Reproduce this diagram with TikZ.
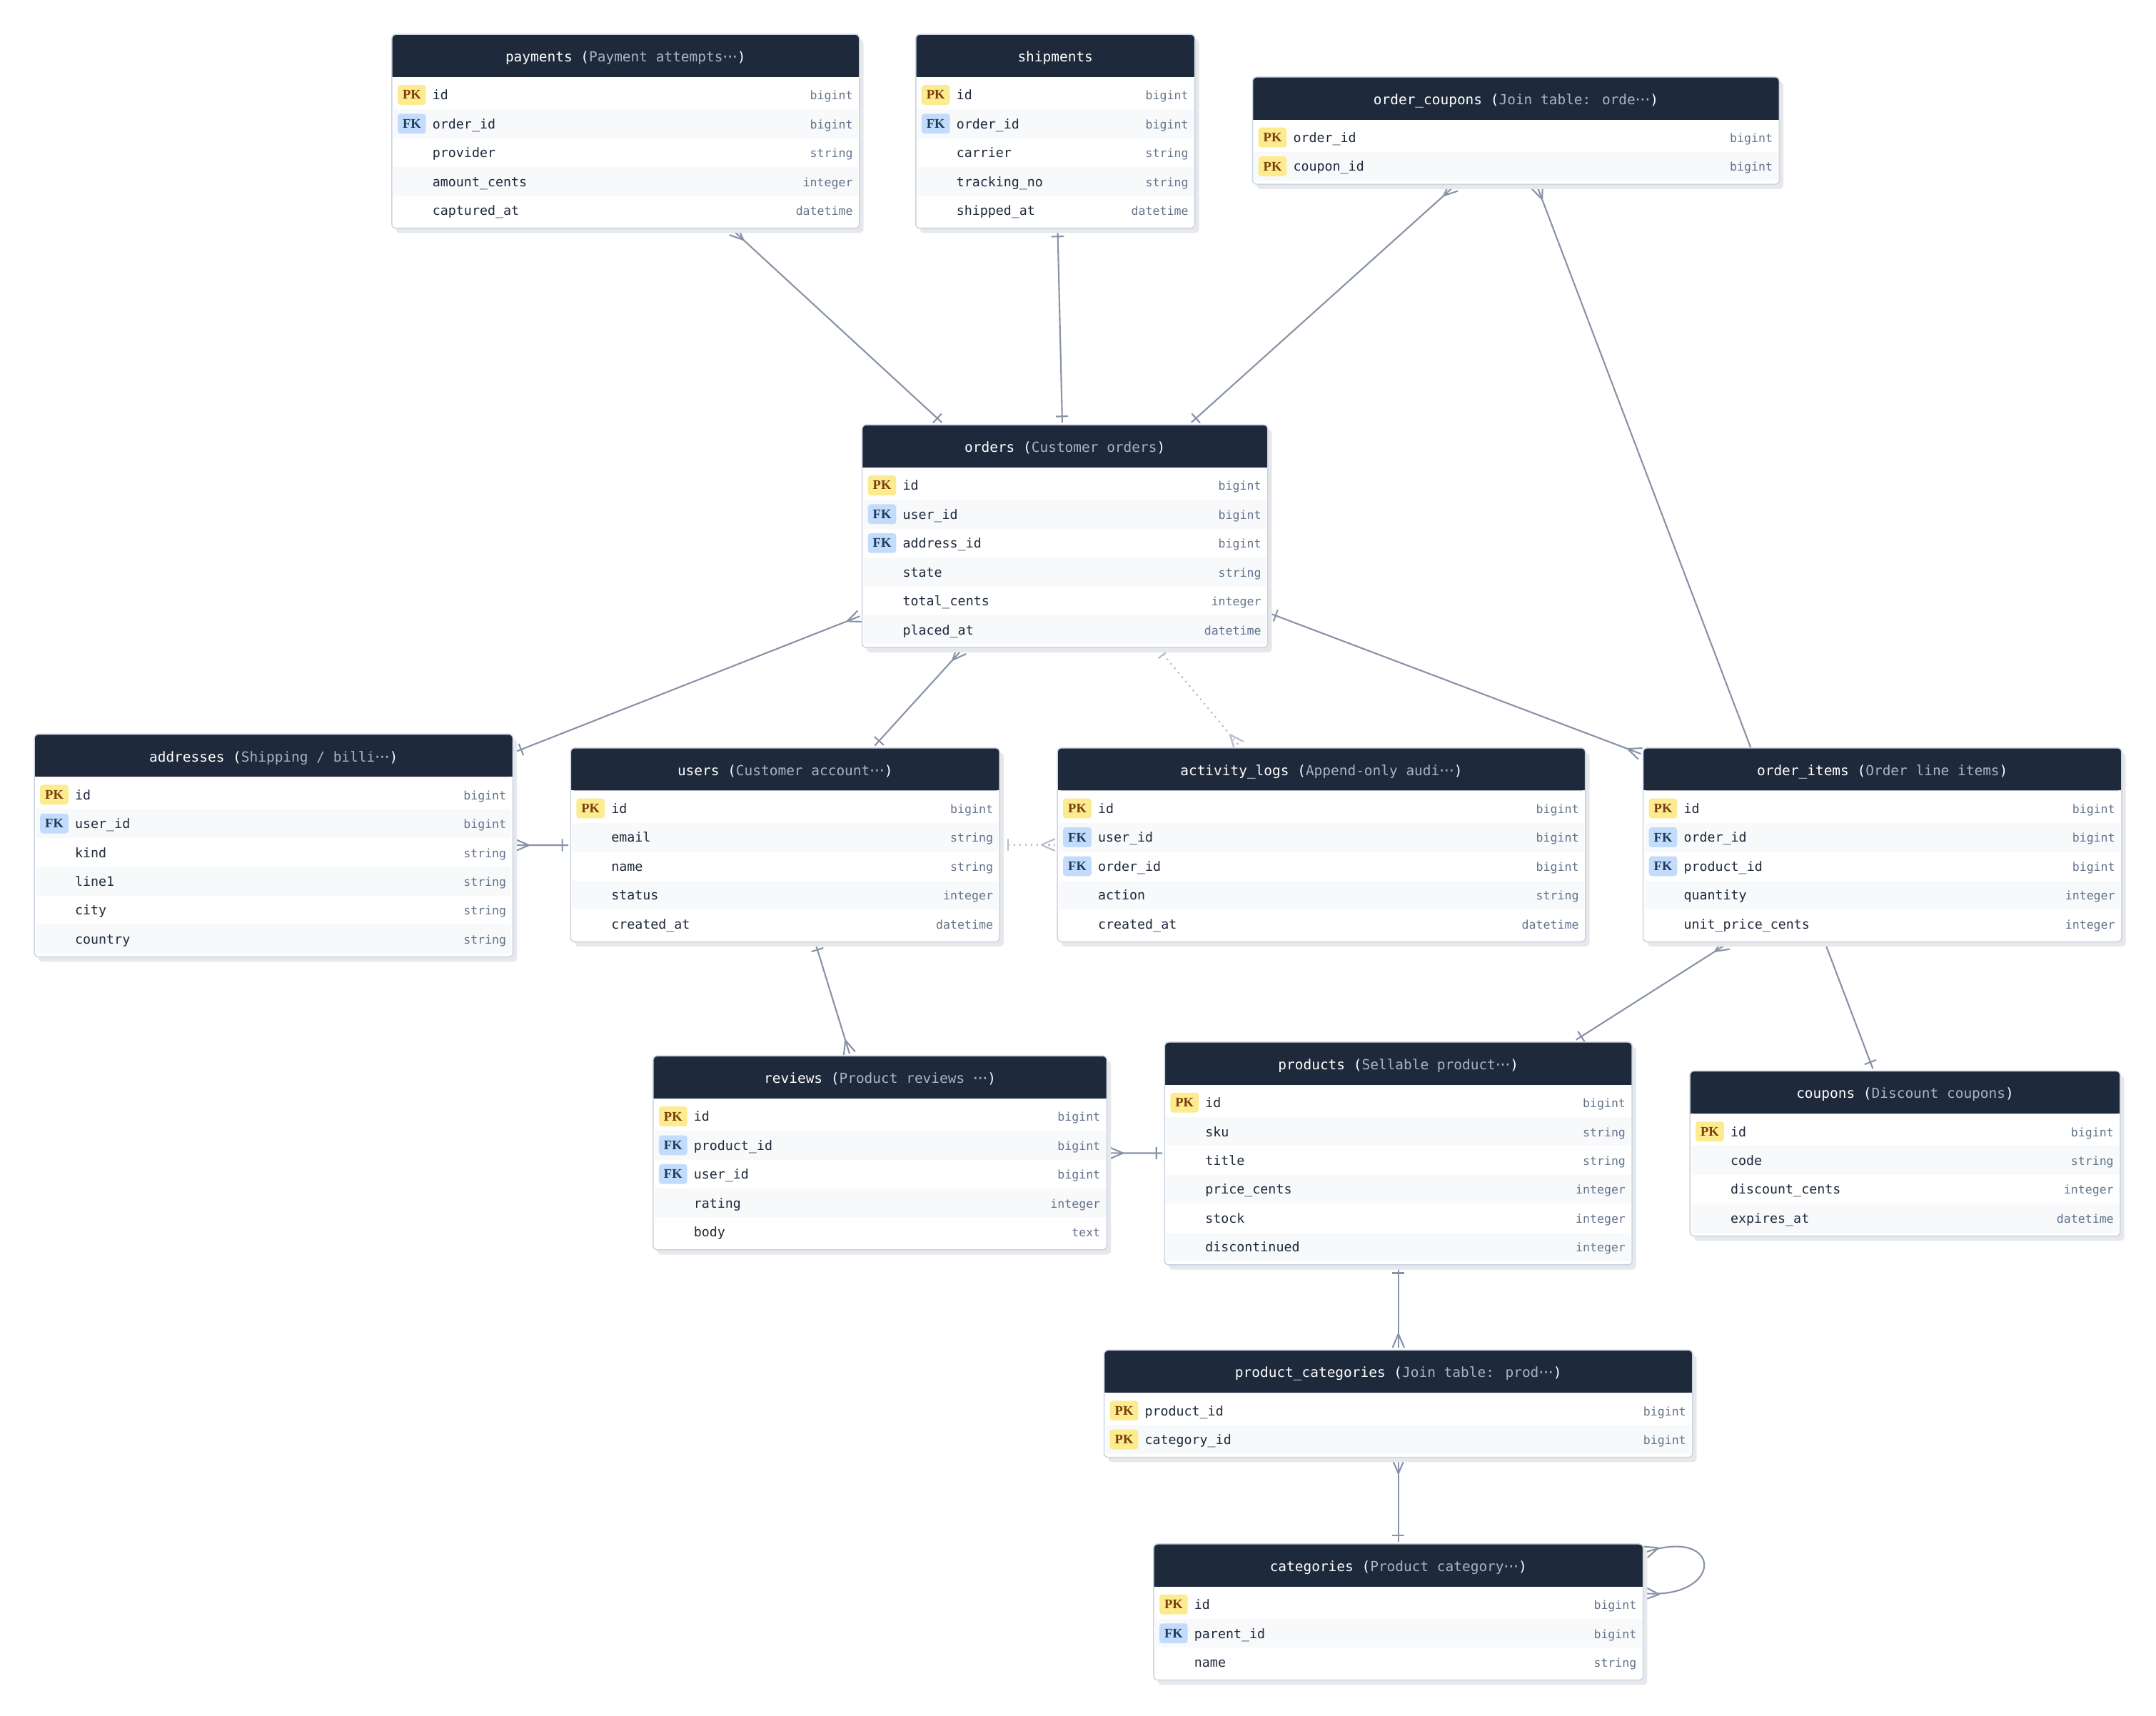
\documentclass[tikz,border=0pt]{standalone}
\usepackage{fontspec}
\newfontfamily\erMono{DejaVu Sans Mono}
\newfontfamily\erSerif{Liberation Serif}
\usepackage{xcolor}
\definecolor{erHead}{HTML}{1E293B}
\definecolor{erSub}{HTML}{A9B3C1}
\definecolor{erBorderCol}{HTML}{CBD5E1}
\definecolor{erShadowCol}{HTML}{E6E8EB}
\definecolor{erStripe}{HTML}{F7F9FB}
\definecolor{erName}{HTML}{1E293B}
\definecolor{erTypeCol}{HTML}{64748B}
\definecolor{pkFill}{HTML}{FDEB8F}
\definecolor{pkText}{HTML}{7A3E0C}
\definecolor{fkFill}{HTML}{C3DCFB}
\definecolor{fkText}{HTML}{1E3A5F}
\definecolor{erLine}{HTML}{8893A7}
\definecolor{erLineSoft}{HTML}{B9C0CC}
\usepackage{tikz}
\usetikzlibrary{positioning, fit, backgrounds, calc, decorations.markings}

%% three mid-line dots for a cut subtitle
\newcommand{\trunc}{\makebox[1.05em][c]{\makebox[0.35em]{·}\makebox[0.35em]{·}\makebox[0.35em]{·}}}
\newcommand{\hdr}[2]{#1 (\textcolor{erSub}{#2})}
\newcommand{\erLabelPK}{PK}
\newcommand{\erLabelFK}{FK}
\newcommand{\erLabelcol}{}

\tikzset{
  %% -- Tables -------------------------------------------------------------
  erFrame/.style  = {inner sep=0pt, outer sep=1.7pt},
  erShadow/.style = {fill=erShadowCol, rounded corners=3pt},
  erBorder/.style = {draw=erBorderCol, line width=0.8pt, rounded corners=3pt},
  erTitle/.style  = {text=white, inner sep=0pt,
                     font=\erMono\fontsize{10.1}{12}\selectfont},
  erCol/.style    = {text=erName, inner sep=0pt,
                     font=\erMono\fontsize{9.5}{11}\selectfont},
  erType/.style   = {text=erTypeCol, inner sep=0pt,
                     font=\erMono\fontsize{8.6}{10}\selectfont},
  erBadge/.style  = {minimum width=20.6pt, minimum height=14.4pt, inner sep=0pt,
                     rounded corners=2pt,
                     font=\erSerif\bfseries\fontsize{9.6}{10}\selectfont},
  PK/.style       = {fill=pkFill, text=pkText},
  FK/.style       = {fill=fkFill, text=fkText},
  col/.style      = {},
  %%
  %% -- Relations ----------------------------------------------------------
  rel/.style      = {color=erLine, line width=1.1pt},
  relSoft/.style  = {color=erLineSoft, line width=1.2pt,
                     dash pattern=on 1.2pt off 3pt},
  crowStart/.style = {postaction={decorate, decoration={markings,
      mark=at position 0 with {\draw[solid] (10pt,0pt) -- (0pt,4.3pt)
                                            (10pt,0pt) -- (0pt,-4.3pt);}}}},
  crowEnd/.style   = {postaction={decorate, decoration={markings,
      mark=at position 0.999 with {\draw[solid] (-10pt,0pt) -- (0pt,4.3pt)
                                                (-10pt,0pt) -- (0pt,-4.3pt);}}}},
  oneStart/.style  = {postaction={decorate, decoration={markings,
      mark=at position 0 with {\draw[solid] (4.3pt,-4.5pt) -- (4.3pt,4.5pt);}}}},
  oneEnd/.style    = {postaction={decorate, decoration={markings,
      mark=at position 0.999 with {\draw[solid] (-4.3pt,-4.5pt) -- (-4.3pt,4.5pt);}}}},
}

%% name, left, top, width, rows, header, fields
\newcommand{\erTable}[7]{%
  \pgfmathsetmacro{\erR}{#2+#4}%
  \pgfmathsetmacro{\erB}{#3+36+21*#5}%
  \pgfmathsetmacro{\erC}{#2+#4/2}%
  \node[erFrame, fit={(#2,#3) (\erR,\erB)}] (#1) {};
  \fill[erShadow] (#2+3,#3+3.5) rectangle (\erR+3,\erB+3.5);
  \fill[white, rounded corners=3pt] (#2,#3) rectangle (\erR,\erB);
  \foreach \kk/\fld/\typ [count=\i] in {#7} {
    \pgfmathsetmacro{\rowY}{#3+23+21*\i}
    \ifodd\i\else
      \fill[erStripe] (#2+1,\rowY-10.5) rectangle (\erR-1,\rowY+10.5);
    \fi
    \node[erBadge, \kk] (#1-k\i) at (#2+14.5,\rowY) {\csname erLabel\kk\endcsname};
    \node[erCol, anchor=base west] (#1-c\i) at (#2+29.4,\rowY+3.6) {\fld};
    \node[erType, anchor=base east] (#1-t\i) at (\erR-4.6,\rowY+3.6) {\typ};
  }
  \fill[erHead, rounded corners=3pt] (#2,#3) rectangle (\erR,#3+31);
  \fill[erHead] (#2,#3+15) rectangle (\erR,#3+31);
  \node[erTitle, anchor=base] (#1-head) at (\erC,#3+20) {#6};
  \draw[erBorder] (#2,#3) rectangle (\erR,\erB);
}

\begin{document}
\begin{tikzpicture}[x=1pt, y=-1pt]
\useasboundingbox (0,0) rectangle (1568,1248);

\erTable{payments}{285}{25}{340}{5}{\hdr{payments}{Payment attempts\trunc}}
  {PK/id/bigint, FK/order\_id/bigint, col/provider/string,
   col/amount\_cents/integer, col/captured\_at/datetime}
\erTable{shipments}{666}{25}{203}{5}{shipments}
  {PK/id/bigint, FK/order\_id/bigint, col/carrier/string,
   col/tracking\_no/string, col/shipped\_at/datetime}
\erTable{orderCoupons}{911}{56}{383}{2}{\hdr{order\_coupons}{Join table: orde\trunc}}
  {PK/order\_id/bigint, PK/coupon\_id/bigint}
\erTable{orders}{627}{309}{295}{6}{\hdr{orders}{Customer orders}}
  {PK/id/bigint, FK/user\_id/bigint, FK/address\_id/bigint,
   col/state/string, col/total\_cents/integer, col/placed\_at/datetime}
\erTable{addresses}{25}{534}{348}{6}{\hdr{addresses}{Shipping / billi\trunc}}
  {PK/id/bigint, FK/user\_id/bigint, col/kind/string,
   col/line1/string, col/city/string, col/country/string}
\erTable{users}{415}{544}{312}{5}{\hdr{users}{Customer account\trunc}}
  {PK/id/bigint, col/email/string, col/name/string,
   col/status/integer, col/created\_at/datetime}
\erTable{activityLogs}{769}{544}{384}{5}{\hdr{activity\_logs}{Append-only audi\trunc}}
  {PK/id/bigint, FK/user\_id/bigint, FK/order\_id/bigint,
   col/action/string, col/created\_at/datetime}
\erTable{orderItems}{1195}{544}{348}{5}{\hdr{order\_items}{Order line items}}
  {PK/id/bigint, FK/order\_id/bigint, FK/product\_id/bigint,
   col/quantity/integer, col/unit\_price\_cents/integer}
\erTable{reviews}{475}{768}{330}{5}{\hdr{reviews}{Product reviews \trunc}}
  {PK/id/bigint, FK/product\_id/bigint, FK/user\_id/bigint,
   col/rating/integer, col/body/text}
\erTable{products}{847}{758}{340}{6}{\hdr{products}{Sellable product\trunc}}
  {PK/id/bigint, col/sku/string, col/title/string,
   col/price\_cents/integer, col/stock/integer, col/discontinued/integer}
\erTable{coupons}{1229}{779}{313}{4}{\hdr{coupons}{Discount coupons}}
  {PK/id/bigint, col/code/string, col/discount\_cents/integer,
   col/expires\_at/datetime}
\erTable{productCategories}{803}{982}{428}{2}{\hdr{product\_categories}{Join table: prod\trunc}}
  {PK/product\_id/bigint, PK/category\_id/bigint}
\erTable{categories}{839}{1123}{356}{3}{\hdr{categories}{Product category\trunc}}
  {PK/id/bigint, FK/parent\_id/bigint, col/name/string}

\begin{scope}[on background layer]
\fill[white] (0,0) rectangle (1568,1248);
\draw[rel, crowStart, oneEnd]  (payments) -- (orders);
\draw[rel, oneStart, oneEnd]   (shipments) -- (orders);
\draw[rel, crowStart, oneEnd]  (orderCoupons) -- (orders);
\draw[rel, crowStart, oneEnd]  (orderCoupons) -- (coupons);
\draw[rel, crowStart, oneEnd]  (orders) -- (addresses);
\draw[rel, crowStart, oneEnd]  (orders) -- (users);
\draw[relSoft, oneStart, crowEnd] (orders) -- (activityLogs);
\draw[rel, oneStart, crowEnd]  (orders) -- (orderItems);
\draw[rel, crowStart, oneEnd]  (addresses) -- (users);
\draw[relSoft, oneStart, crowEnd] (users) -- (activityLogs);
\draw[rel, oneStart, crowEnd]  (users) -- (reviews);
\draw[rel, crowStart, oneEnd]  (reviews) -- (products);
\draw[rel, crowStart, oneEnd]  (orderItems) -- (products);
\draw[rel, oneStart, crowEnd]  (products) -- (productCategories);
\draw[rel, crowStart, oneEnd]  (productCategories) -- (categories);
% self reference: parent_id
\coordinate (loopOut) at ($(categories.north east)+(0,7.7)$);
\coordinate (loopIn)  at ($(categories.north east)+(0,37.7)$);
\draw[rel, crowStart, crowEnd] (loopOut) .. controls +(57,-19) and +(57,4) .. (loopIn);
\end{scope}

\end{tikzpicture}
\end{document}
